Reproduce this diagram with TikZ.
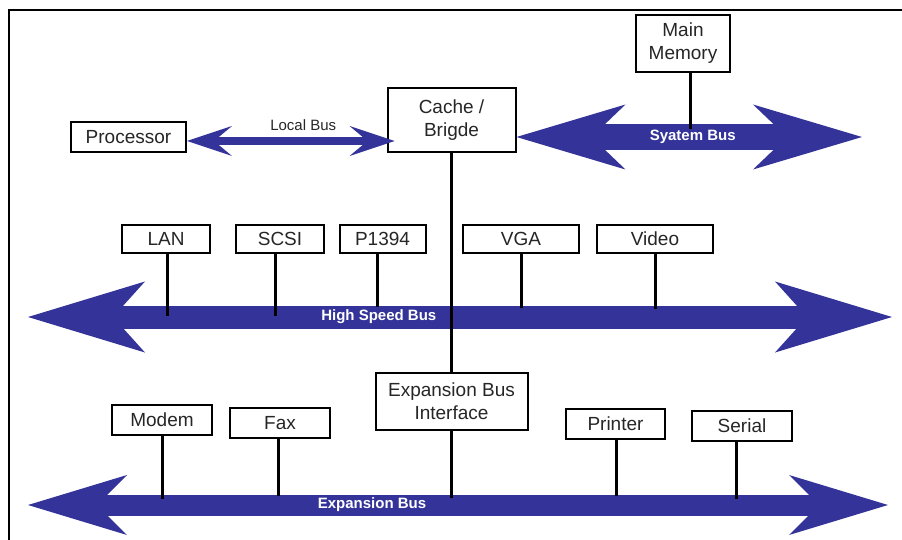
\documentclass[tikz,border=0pt]{standalone}
\usepackage{fontspec}
\setmainfont{Liberation Sans}
\usetikzlibrary{arrows.meta}
\definecolor{busblue}{RGB}{51,51,153}

\begin{document}
\begin{tikzpicture}[x=1pt,y=-1pt,
  box/.style={draw,line width=2pt,fill=white,text=black!85,inner sep=0pt,
    font=\fontsize{19}{23}\selectfont,align=center,minimum height=#1},
  box/.default=30pt,
  stub/.style={line width=3pt},
  bus/.style n args={4}{draw=busblue,line width=#1,
    arrows={Stealth[length=#2 0 0,width=#3 0 0,inset=#4 0 0,line width=0pt 0 0]-Stealth[length=#2 0 0,width=#3 0 0,inset=#4 0 0,line width=0pt 0 0]}},
  buslabel/.style={text=white,font=\bfseries\fontsize{15}{15}\selectfont,inner sep=0pt}]
  \useasboundingbox (0,0) rectangle (902,540);

  % frame
  \draw[line width=2pt] (9,540) -- (9,10) -- (902,10);

  % boxes
  \node[box=64pt,minimum width=128pt] (cache)   at (451.5,120) {Cache /\\Brigde};
  \node[box,minimum width=115pt]      (proc)    at (128.5,137) {Processor};
  \node[box=57pt,minimum width=94pt]  (mem)     at (683,43.5)  {Main\\Memory};
  \node[box=28pt,minimum width=88pt]  (lan)     at (166,239)   {LAN};
  \node[box=28pt,minimum width=88pt]  (scsi)    at (280,239)   {SCSI};
  \node[box=28pt,minimum width=86pt]  (p1394)   at (382.5,239) {P1394};
  \node[box=28pt,minimum width=116pt] (vga)     at (521,239)   {VGA};
  \node[box=28pt,minimum width=116pt] (video)   at (655,239)   {Video};
  \node[box=57pt,minimum width=152pt] (ebi)     at (451.5,401.5) {Expansion Bus\\Interface};
  \node[box,minimum width=100pt]      (modem)   at (162,420)   {Modem};
  \node[box,minimum width=100pt]      (fax)     at (280,423)   {Fax};
  \node[box,minimum width=99pt]       (printer) at (615.5,424) {Printer};
  \node[box,minimum width=100pt]      (serial)  at (742,426)   {Serial};

  % buses
  \coordinate (sysR) at (862,137);
  \coordinate (hsL)  at (28,317);
  \coordinate (hsR)  at (892,317);
  \coordinate (exL)  at (28,505);
  \coordinate (exR)  at (888,505);
  \coordinate (lbL)  at ([yshift=-4pt]proc.east);
  \coordinate (lbR)  at (lbL -| cache.west);

  \draw[bus={26pt}{109pt}{65pt}{34pt}] (cache.east |- sysR) -- node[buslabel,pos=.51] {Syatem Bus} (sysR);
  \draw[bus={23pt}{117pt}{71pt}{32pt}] (hsL) -- node[buslabel,pos=.406] {High Speed Bus} (hsR);
  \draw[bus={21pt}{99pt}{60pt}{30pt}] (exL) -- node[buslabel,pos=.4] {Expansion Bus} (exR);
  \draw[bus={8pt}{45pt}{30pt}{18pt}] (lbL) -- node[above=3pt,pos=.56,text=black!85,font=\fontsize{15}{15}\selectfont] {Local Bus} ([xshift=8pt]lbR);

  % stubs
  \draw[stub] ([xshift=7pt]mem.south) -- ++(0,56);
  \draw[line width=3.5pt] (cache.south) -- (ebi.north);
  \draw[line width=3.5pt] (ebi.south) -- ++(0,67);
  \foreach \n/\dx/\len in {lan/1/62, scsi/-5/62, p1394/-5/53, vga/0/54, video/0/55,
                           modem/0/63, fax/-2/57, printer/1/56, serial/-6/57}
    \draw[stub] ([xshift=\dx pt]\n.south) -- ++(0,\len);
\end{tikzpicture}
\end{document}
